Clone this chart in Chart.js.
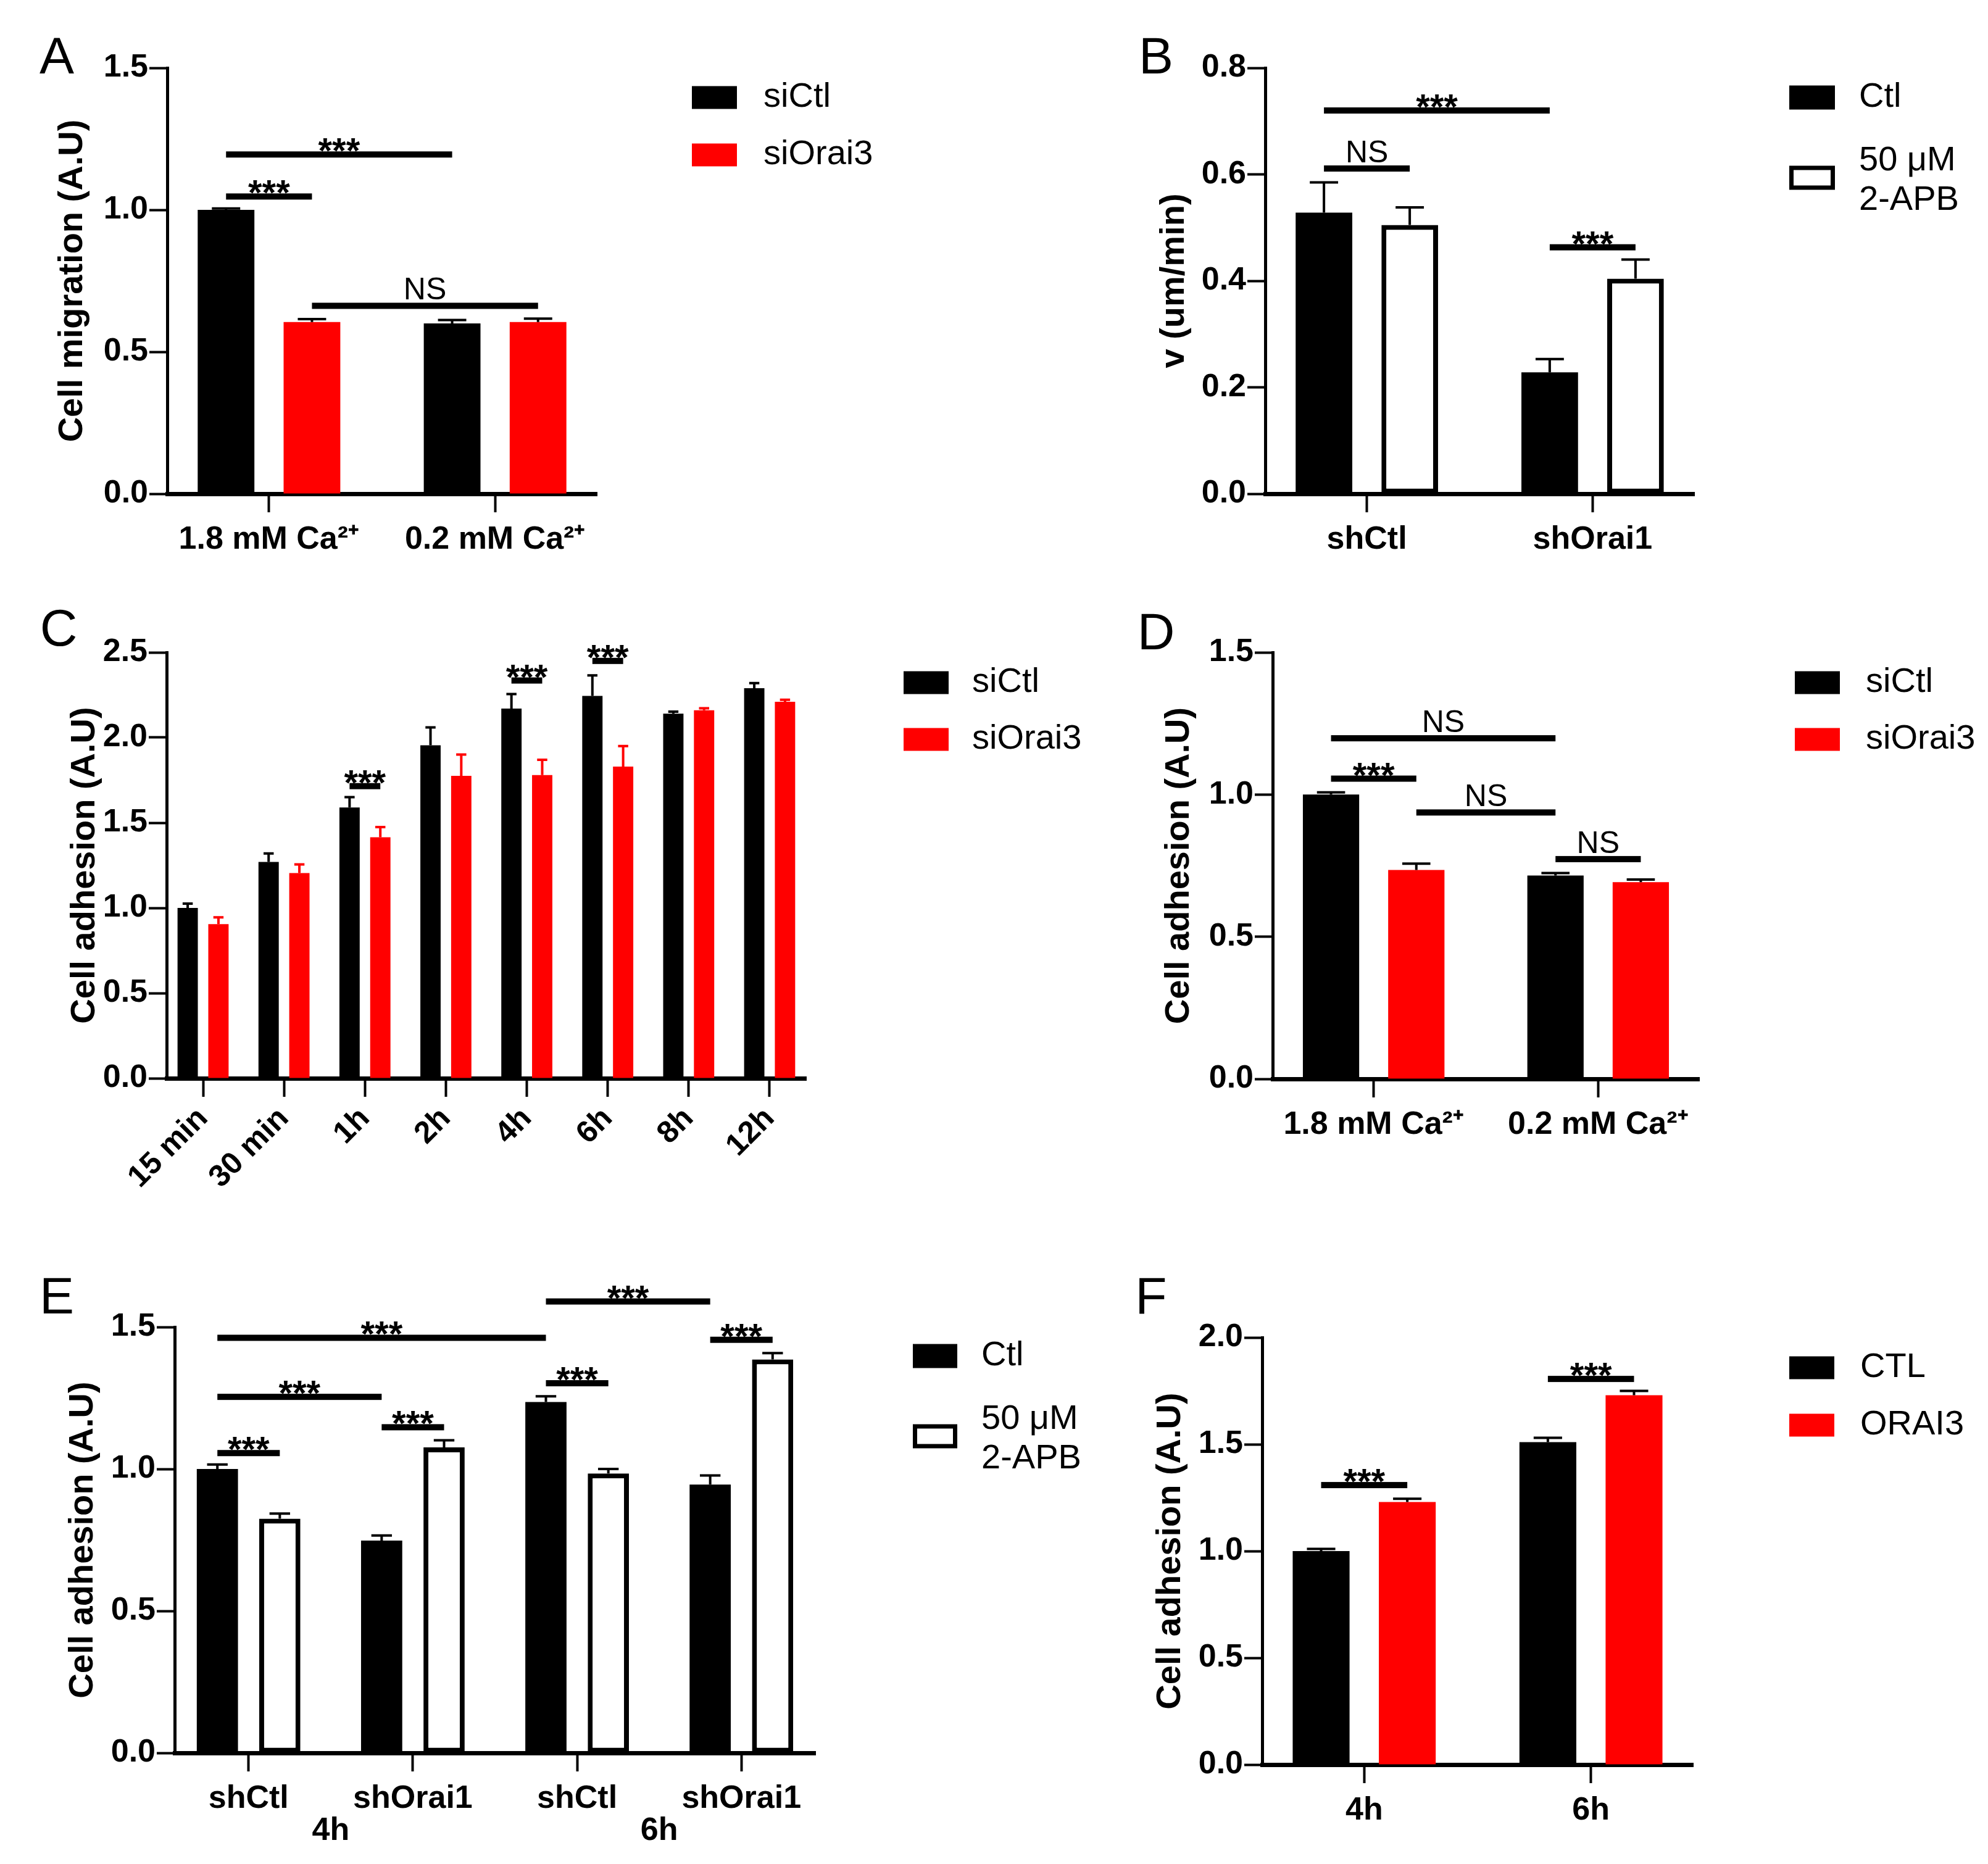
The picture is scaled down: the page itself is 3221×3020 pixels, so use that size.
<!DOCTYPE html>
<html><head><meta charset="utf-8">
<script src="https://cdn.jsdelivr.net/npm/chart.js@4.4.1/dist/chart.umd.min.js"></script>
<style>
html,body{margin:0;padding:0;background:#fff;}
body{position:relative;width:3221px;height:3020px;overflow:hidden;}
.lbl{position:absolute;font-family:'Liberation Sans',Arial,Helvetica,sans-serif;font-size:84px;line-height:1;transform:translate(-50%,-50%);color:#000;}
canvas{position:absolute;}
</style></head><body>
<script>
// ---------------- DATA ----------------
// Panel A
const categoriesA = ['1.8 mM Ca²⁺', '0.2 mM Ca²⁺'];
const siCtlA = [1.00, 0.600];
const siCtlErrA = [0.005, 0.012];
const siOrai3A = [0.605, 0.605];
const siOrai3ErrA = [0.010, 0.012];
const yMaxA = 1.5, yStepA = 0.5;
const sigA = [[0,0, 1,0, 1.195, '***'], [0,0, 0,1, 1.047, '***'], [0,1, 1,1, 0.662, 'NS']];

// Panel B
const categoriesB = ['shCtl', 'shOrai1'];
const ctlB = [0.528, 0.228];
const ctlErrB = [0.057, 0.025];
const apbB = [0.505, 0.404];
const apbErrB = [0.033, 0.036];
const yMaxB = 0.8, yStepB = 0.2;
const sigB = [[0,0, 1,0, 0.720, '***'], [0,0, 0,1, 0.611, 'NS'], [1,0, 1,1, 0.463, '***']];

// Panel C
const categoriesC = ['15 min', '30 min', '1h', '2h', '4h', '6h', '8h', '12h'];
const siCtlC = [1.00, 1.27, 1.59, 1.955, 2.17, 2.245, 2.14, 2.29];
const siCtlErrC = [0.025, 0.05, 0.06, 0.105, 0.085, 0.12, 0.012, 0.03];
const siOrai3C = [0.905, 1.205, 1.415, 1.775, 1.78, 1.83, 2.16, 2.21];
const siOrai3ErrC = [0.04, 0.05, 0.06, 0.125, 0.09, 0.12, 0.012, 0.012];
const yMaxC = 2.5, yStepC = 0.5;
const sigC = [[2,0, 2,1, 1.715, '***'], [4,0, 4,1, 2.335, '***'], [5,0, 5,1, 2.450, '***']];

// Panel D
const categoriesD = ['1.8 mM Ca²⁺', '0.2 mM Ca²⁺'];
const siCtlD = [1.00, 0.715];
const siCtlErrD = [0.008, 0.009];
const siOrai3D = [0.735, 0.692];
const siOrai3ErrD = [0.022, 0.009];
const yMaxD = 1.5, yStepD = 0.5;
const sigD = [[0,0, 1,0, 1.198, 'NS'], [0,0, 0,1, 1.056, '***'], [0,1, 1,0, 0.937, 'NS'], [1,0, 1,1, 0.773, 'NS']];

// Panel E
const categoriesE = ['shCtl', 'shOrai1', 'shCtl', 'shOrai1'];
const groupLabelsE = ['4h', '6h'];
const ctlE = [1.00, 0.748, 1.236, 0.945];
const ctlErrE = [0.016, 0.018, 0.020, 0.032];
const apbE = [0.825, 1.076, 0.984, 1.386];
const apbErrE = [0.018, 0.025, 0.016, 0.022];
const yMaxE = 1.5, yStepE = 0.5;
const sigE = [[2,0, 3,0, 1.590, '***'], [0,0, 2,0, 1.462, '***'], [0,0, 1,0, 1.254, '***'],
              [0,0, 0,1, 1.056, '***'], [1,0, 1,1, 1.147, '***'], [2,0, 2,1, 1.302, '***'], [3,0, 3,1, 1.455, '***']];

// Panel F
const categoriesF = ['4h', '6h'];
const ctlF = [1.00, 1.51];
const ctlErrF = [0.010, 0.020];
const orai3F = [1.23, 1.73];
const orai3ErrF = [0.015, 0.020];
const yMaxF = 2.0, yStepF = 0.5;
const sigF = [[0,0, 0,1, 1.309, '***'], [1,0, 1,1, 1.806, '***']];

// ---------------- DRAWING ----------------
const FONT = "'Liberation Sans', Arial, Helvetica, sans-serif";
const BLACK = '#000000', RED = '#ff0000', WHITE = '#ffffff';
Chart.defaults.color = '#000';
Chart.defaults.font.family = FONT;

function makePanel(cfg) {
  const [cx, cy, W, H] = cfg.rect;
  const cv = document.createElement('canvas');
  cv.width = W; cv.height = H;
  cv.style.left = cx + 'px'; cv.style.top = cy + 'px';
  cv.style.width = W + 'px'; cv.style.height = H + 'px';
  document.body.appendChild(cv);
  const TITLE = 56, TLH = TITLE * 1.2, XH = cfg.xh || 150;
  const pl = cfg.titleX - cx - TLH / 2;
  const yw = cfg.axis[0] - cx - pl;
  const pr = cx + W - cfg.axis[1];
  const pt = cfg.axis[2] - cy;
  const pb = cy + H - cfg.axis[3] - XH;
  const cats = cfg.categories;
  const n = cats.length;

  const datasets = cfg.series.map(s => ({
    label: s.label,
    data: s.values.map((v, i) => ({ x: i, y: v })),
    errors: s.errors,
    errColor: s.errColor,
    backgroundColor: s.fill,
    borderColor: BLACK,
    borderWidth: s.borderWidth,
    borderSkipped: false,
    categoryPercentage: 0.76,
    barPercentage: 0.66
  }));

  const errorPlugin = {
    id: 'errs',
    afterDatasetsDraw(chart) {
      const ctx = chart.ctx, ys = chart.scales.y;
      chart.data.datasets.forEach((ds, di) => {
        const meta = chart.getDatasetMeta(di);
        meta.data.forEach((bar, j) => {
          const v = ds.data[j].y, e = ds.errors[j];
          const top = ys.getPixelForValue(v + e);
          const hw = bar.width * 0.25;
          ctx.save();
          ctx.strokeStyle = ds.errColor; ctx.lineWidth = 4; ctx.lineCap = 'butt';
          ctx.beginPath();
          ctx.moveTo(bar.x, bar.y); ctx.lineTo(bar.x, top);
          ctx.moveTo(bar.x - hw, top); ctx.lineTo(bar.x + hw, top);
          ctx.stroke();
          ctx.restore();
        });
      });
    }
  };

  const annotPlugin = {
    id: 'annot',
    afterDraw(chart) {
      const ctx = chart.ctx, ys = chart.scales.y, xs = chart.scales.x;
      ctx.save();
      // significance brackets
      cfg.brackets.forEach(b => {
        const x1 = chart.getDatasetMeta(b[1]).data[b[0]].x;
        const x2 = chart.getDatasetMeta(b[3]).data[b[2]].x;
        const yy = ys.getPixelForValue(b[4]);
        ctx.fillStyle = BLACK;
        ctx.fillRect(Math.min(x1, x2), yy - 5, Math.abs(x2 - x1), 10);
        const stars = b[5] === '***';
        ctx.font = stars ? 'bold 58px ' + FONT : '50px ' + FONT;
        ctx.textAlign = 'center'; ctx.textBaseline = 'alphabetic';
        const base = stars ? yy - 5 + 19 : yy - 10;
        ctx.fillText(b[5], (x1 + x2) / 2, base);
      });
      // group labels (second row of x labels)
      if (cfg.groups) {
        ctx.font = 'bold 52px ' + FONT;
        ctx.textAlign = 'center'; ctx.textBaseline = 'middle';
        cfg.groups.forEach((g, gi) => {
          const xa = xs.getPixelForValue(gi * 2), xb = xs.getPixelForValue(gi * 2 + 1);
          ctx.fillText(g, (xa + xb) / 2, chart.chartArea.bottom + 127);
        });
      }
      // legend
      const L = cfg.legend;
      cfg.series.forEach((s, i) => {
        const rowY = L.rows[i] - cy;
        const bx = L.boxX - cx;
        if (s.borderWidth > 0) {
          ctx.fillStyle = WHITE;
          ctx.fillRect(bx, rowY - L.boxH / 2, L.boxW, L.boxH);
          ctx.strokeStyle = BLACK; ctx.lineWidth = 7;
          ctx.strokeRect(bx + 3.5, rowY - L.boxH / 2 + 3.5, L.boxW - 7, L.boxH - 7);
        } else {
          ctx.fillStyle = s.fill;
          ctx.fillRect(bx, rowY - L.boxH / 2, L.boxW, L.boxH);
        }
        ctx.fillStyle = BLACK;
        ctx.font = '56px ' + FONT;
        ctx.textAlign = 'left'; ctx.textBaseline = 'middle';
        const lines = s.label.split('\n');
        lines.forEach((t, k) => {
          const ly = lines.length === 1 ? rowY : rowY + 5 + (k - (lines.length - 1) / 2) * 64;
          ctx.fillText(t, L.textX - cx, ly);
        });
      });
      ctx.restore();
    }
  };

  return new Chart(cv, {
    type: 'bar',
    data: { datasets },
    plugins: [errorPlugin, annotPlugin],
    options: {
      responsive: false, maintainAspectRatio: false, animation: false,
      devicePixelRatio: 1, events: [],
      layout: { padding: { left: pl, right: pr, top: pt, bottom: pb } },
      plugins: { legend: { display: false }, tooltip: { enabled: false } },
      scales: {
        x: {
          type: 'linear', min: -0.45, max: n - 1 + 0.45, bounds: 'data', offset: false, z: 1,
          afterBuildTicks: (s) => { s.ticks = cats.map((_, i) => ({ value: i })); },
          afterFit: (s) => { s.height = XH; },
          ticks: {
            autoSkip: false, padding: cfg.rotation ? 6 : 13,
            minRotation: cfg.rotation, maxRotation: cfg.rotation,
            font: { family: FONT, size: cfg.rotation ? 50 : 52, weight: 'bold' },
            color: BLACK,
            callback: (v) => (Number.isInteger(v) && cats[v] !== undefined) ? cats[v] : ''
          },
          grid: { display: true, drawOnChartArea: false, drawTicks: true, tickLength: 30, tickWidth: 4, tickColor: BLACK, offset: false },
          border: { display: true, color: BLACK, width: 7 }
        },
        y: {
          min: 0, max: cfg.yMax,
          afterFit: (s) => { s.width = yw; },
          ticks: {
            stepSize: cfg.yStep, padding: 2, color: BLACK,
            font: { family: FONT, size: 52, weight: 'bold' },
            callback: (v) => Number(v).toFixed(1)
          },
          grid: { display: true, drawOnChartArea: false, drawTicks: true, tickLength: 29, tickWidth: 4, tickColor: BLACK },
          border: { display: true, color: BLACK, width: 5 },
          title: { display: true, text: cfg.yTitle, color: BLACK, padding: 0,
                   font: { family: FONT, size: TITLE, weight: 'bold' } }
        }
      }
    }
  });
}

makePanel({
  rect: [0, 0, 1610, 960], axis: [271, 967, 110, 800], titleX: 118,
  yTitle: 'Cell migration (A.U)', yMax: yMaxA, yStep: yStepA, categories: categoriesA, rotation: 0,
  series: [
    { label: 'siCtl', values: siCtlA, errors: siCtlErrA, fill: BLACK, borderWidth: 0, errColor: BLACK },
    { label: 'siOrai3', values: siOrai3A, errors: siOrai3ErrA, fill: RED, borderWidth: 0, errColor: BLACK }
  ],
  brackets: sigA,
  legend: { boxX: 1121, boxW: 73, boxH: 37, textX: 1237, rows: [158, 251] }
});

makePanel({
  rect: [1610, 0, 1611, 960], axis: [2050, 2745, 110, 800], titleX: 1903,
  yTitle: 'v (um/min)', yMax: yMaxB, yStep: yStepB, categories: categoriesB, rotation: 0,
  series: [
    { label: 'Ctl', values: ctlB, errors: ctlErrB, fill: BLACK, borderWidth: 0, errColor: BLACK },
    { label: '50 μM\n2-APB', values: apbB, errors: apbErrB, fill: WHITE, borderWidth: 8, errColor: BLACK }
  ],
  brackets: sigB,
  legend: { boxX: 2899, boxW: 74, boxH: 39, textX: 3012, rows: [158, 288] }
});

makePanel({
  rect: [0, 960, 1780, 1040], axis: [270, 1306, 1057, 1747], titleX: 138, xh: 240,
  yTitle: 'Cell adhesion (A.U)', yMax: yMaxC, yStep: yStepC, categories: categoriesC, rotation: 45,
  series: [
    { label: 'siCtl', values: siCtlC, errors: siCtlErrC, fill: BLACK, borderWidth: 0, errColor: BLACK },
    { label: 'siOrai3', values: siOrai3C, errors: siOrai3ErrC, fill: RED, borderWidth: 0, errColor: RED }
  ],
  brackets: sigC,
  legend: { boxX: 1464, boxW: 73, boxH: 37, textX: 1575, rows: [1106, 1198] }
});

makePanel({
  rect: [1780, 960, 1441, 1040], axis: [2062, 2753, 1057, 1748], titleX: 1911,
  yTitle: 'Cell adhesion (A.U)', yMax: yMaxD, yStep: yStepD, categories: categoriesD, rotation: 0,
  series: [
    { label: 'siCtl', values: siCtlD, errors: siCtlErrD, fill: BLACK, borderWidth: 0, errColor: BLACK },
    { label: 'siOrai3', values: siOrai3D, errors: siOrai3ErrD, fill: RED, borderWidth: 0, errColor: BLACK }
  ],
  brackets: sigD,
  legend: { boxX: 2908, boxW: 73, boxH: 37, textX: 3023, rows: [1106, 1198] }
});

makePanel({
  rect: [0, 2000, 1780, 1020], axis: [283, 1321, 2150, 2840], titleX: 135,
  yTitle: 'Cell adhesion (A.U)', yMax: yMaxE, yStep: yStepE, categories: categoriesE, rotation: 0,
  groups: groupLabelsE,
  series: [
    { label: 'Ctl', values: ctlE, errors: ctlErrE, fill: BLACK, borderWidth: 0, errColor: BLACK },
    { label: '50 μM\n2-APB', values: apbE, errors: apbErrE, fill: WHITE, borderWidth: 8, errColor: BLACK }
  ],
  brackets: sigE,
  legend: { boxX: 1479, boxW: 72, boxH: 39, textX: 1590, rows: [2197, 2327] }
});

makePanel({
  rect: [1780, 2000, 1441, 1020], axis: [2045, 2743, 2167, 2859], titleX: 1897,
  yTitle: 'Cell adhesion (A.U)', yMax: yMaxF, yStep: yStepF, categories: categoriesF, rotation: 0,
  series: [
    { label: 'CTL', values: ctlF, errors: ctlErrF, fill: BLACK, borderWidth: 0, errColor: BLACK },
    { label: 'ORAI3', values: orai3F, errors: orai3ErrF, fill: RED, borderWidth: 0, errColor: BLACK }
  ],
  brackets: sigF,
  legend: { boxX: 2899, boxW: 73, boxH: 37, textX: 3014, rows: [2216, 2309] }
});

// panel letters
[['A', 92, 90], ['B', 1873, 90], ['C', 95, 1017], ['D', 1873, 1023], ['E', 92, 2099], ['F', 1865, 2099]].forEach(([t, x, y]) => {
  const d = document.createElement('div');
  d.className = 'lbl'; d.textContent = t;
  d.style.left = x + 'px'; d.style.top = y + 'px';
  document.body.appendChild(d);
});
</script>
</body></html>
